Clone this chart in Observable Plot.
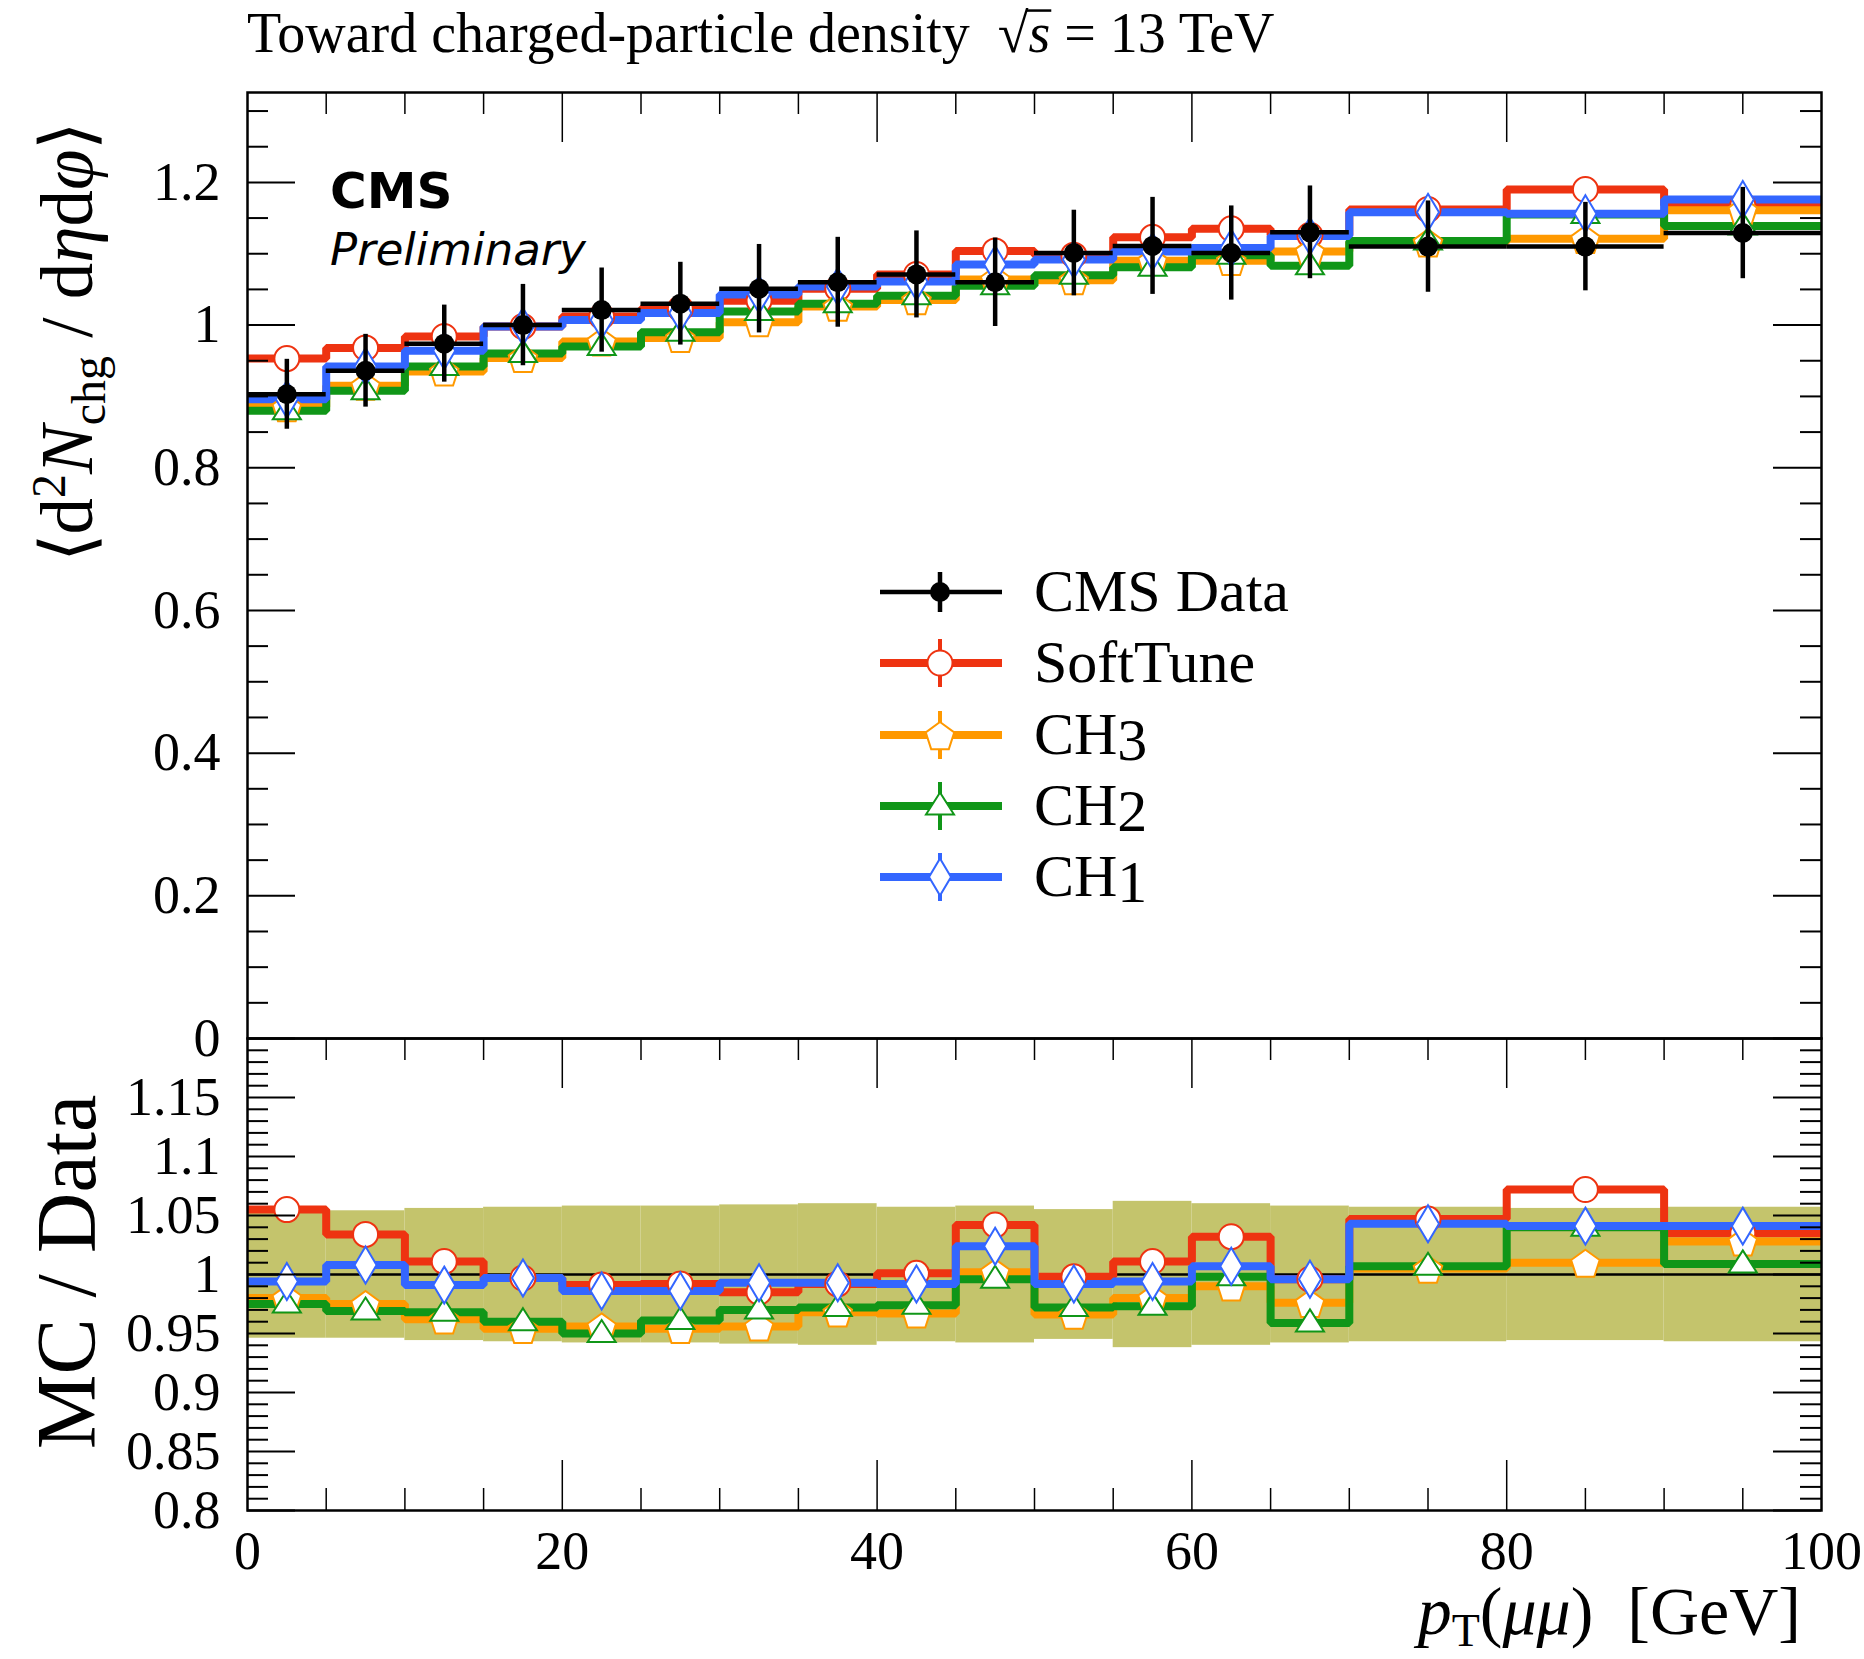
<!DOCTYPE html>
<html><head><meta charset="utf-8">
<script src="https://cdn.jsdelivr.net/npm/d3@7"></script>
<script src="https://cdn.jsdelivr.net/npm/@observablehq/plot@0.6"></script>
<style>
body{margin:0;background:#fff;}
#fig{position:relative;width:1864px;height:1659px;background:#fff;overflow:hidden;}
#fig svg{position:absolute;left:0;overflow:visible;}
</style></head><body><div id="fig"></div>
<script>
// ---------------- data ----------------
const binLo = [0, 5, 10, 15, 20, 25, 30, 35, 40, 45, 50, 55, 60, 65, 70, 80, 90];
const binHi = [5, 10, 15, 20, 25, 30, 35, 40, 45, 50, 55, 60, 65, 70, 80, 90, 100];

const dataVal = [0.903, 0.936, 0.974, 1.000, 1.021, 1.030, 1.051, 1.060, 1.071, 1.060, 1.101, 1.111, 1.101, 1.130, 1.110, 1.110, 1.129];
const dataErr = [0.049, 0.051, 0.054, 0.057, 0.059, 0.058, 0.062, 0.063, 0.061, 0.062, 0.060, 0.068, 0.066, 0.065, 0.064, 0.062, 0.064];

const softTune = [0.953, 0.968, 0.984, 0.998, 1.012, 1.023, 1.034, 1.051, 1.071, 1.104, 1.098, 1.123, 1.135, 1.126, 1.162, 1.190, 1.168];
const ch3      = [0.885, 0.915, 0.935, 0.954, 0.977, 0.982, 1.004, 1.026, 1.035, 1.064, 1.063, 1.090, 1.090, 1.103, 1.116, 1.121, 1.161];
const ch2      = [0.880, 0.908, 0.942, 0.960, 0.970, 0.990, 1.019, 1.030, 1.041, 1.055, 1.070, 1.081, 1.098, 1.083, 1.118, 1.155, 1.139];
const ch1      = [0.896, 0.942, 0.964, 0.998, 1.007, 1.017, 1.043, 1.054, 1.061, 1.085, 1.092, 1.103, 1.108, 1.125, 1.158, 1.156, 1.176];

const rSoft = [1.055, 1.034, 1.011, 0.997, 0.991, 0.992, 0.985, 0.992, 1.001, 1.042, 0.998, 1.011, 1.032, 0.996, 1.047, 1.072, 1.035];
const rCh3  = [0.980, 0.975, 0.962, 0.954, 0.956, 0.954, 0.956, 0.968, 0.967, 1.002, 0.966, 0.980, 0.990, 0.976, 1.005, 1.010, 1.028];
const rCh2  = [0.975, 0.969, 0.968, 0.960, 0.950, 0.961, 0.970, 0.972, 0.974, 0.996, 0.972, 0.973, 0.998, 0.959, 1.007, 1.040, 1.009];
const rCh1  = [0.994, 1.008, 0.991, 0.997, 0.986, 0.986, 0.993, 0.993, 0.992, 1.024, 0.992, 0.994, 1.007, 0.996, 1.043, 1.041, 1.041];

const bandHalf = [0.054, 0.054, 0.056, 0.057, 0.058, 0.058, 0.059, 0.060, 0.057, 0.058, 0.055, 0.062, 0.060, 0.058, 0.057, 0.056, 0.057];

const seriesNames = ["SoftTune", "CH3", "CH2", "CH1"];
const seriesColors = ["#ee3311", "#ff9900", "#109618", "#3366ff"];

const yTicksTop = [0, 0.2, 0.4, 0.6, 0.8, 1, 1.2];
const yTicksRatio = [0.8, 0.85, 0.9, 0.95, 1, 1.05, 1.1, 1.15];
const xTicks = [0, 20, 40, 60, 80, 100];

// ---------------- layout ----------------
const W = 1864, ML = 247, MR = 43;
const FW = W - ML - MR;
const topFrameTop = 92, split = 1038, botFrameBottom = 1510;
const topH = split - topFrameTop;       // 946
const botH = botFrameBottom - split;    // 472
const SERIF = "'Liberation Serif', 'Times New Roman', serif";
const SANS = "'DejaVu Sans', sans-serif";

const bins = binLo.map((lo, i) => ({lo, hi: binHi[i], mid: (lo + binHi[i]) / 2,
  v: dataVal[i], e: dataErr[i], b: bandHalf[i]}));

function stepPts(vals) {
  const pts = [];
  vals.forEach((v, i) => { pts.push({x: binLo[i], y: v}); pts.push({x: binHi[i], y: v}); });
  return pts;
}

// marker shapes (pixel sizes)
const symCircle = {draw(c) { const r = 12.5; c.moveTo(r, 0); c.arc(0, 0, r, 0, 2 * Math.PI); c.closePath(); }};
const symPent = {draw(c) { const R = 15; for (let k = 0; k < 5; k++) { const a = -Math.PI / 2 + k * 2 * Math.PI / 5; const px = R * Math.cos(a), py = R * Math.sin(a) + 2; k ? c.lineTo(px, py) : c.moveTo(px, py); } c.closePath(); }};
const symTri = {draw(c) { c.moveTo(0, -13.5); c.lineTo(14, 8.5); c.lineTo(-14, 8.5); c.closePath(); }};
const symDiam = {draw(c) { c.moveTo(0, -18.5); c.lineTo(11, 0); c.lineTo(0, 18.5); c.lineTo(-11, 0); c.closePath(); }};
const symbols = [symCircle, symPent, symTri, symDiam];
const topSeries = [softTune, ch3, ch2, ch1];
const ratioSeries = [rSoft, rCh3, rCh2, rCh1];

function tickMarks(yMajor, yMinor, xMajor, xMinor, fh, where) {
  const m = [];
  m.push(Plot.tickY(yMajor, {y: d => d, insetRight: FW - 48, stroke: "black", strokeWidth: 2}));
  m.push(Plot.tickY(yMajor, {y: d => d, insetLeft: FW - 48, stroke: "black", strokeWidth: 2}));
  m.push(Plot.tickY(yMinor, {y: d => d, insetRight: FW - 21, stroke: "black", strokeWidth: 2}));
  m.push(Plot.tickY(yMinor, {y: d => d, insetLeft: FW - 21, stroke: "black", strokeWidth: 2}));
  if (where.includes("top")) {
    m.push(Plot.tickX(xMajor, {x: d => d, insetBottom: fh - 50, stroke: "black", strokeWidth: 1.5}));
    m.push(Plot.tickX(xMinor, {x: d => d, insetBottom: fh - 22, stroke: "black", strokeWidth: 1.5}));
  }
  if (where.includes("bottom")) {
    m.push(Plot.tickX(xMajor, {x: d => d, insetTop: fh - 50, stroke: "black", strokeWidth: 1.5}));
    m.push(Plot.tickX(xMinor, {x: d => d, insetTop: fh - 22, stroke: "black", strokeWidth: 1.5}));
  }
  return m;
}

const xMinor = d3.range(5, 100, 5).filter(d => d % 20 !== 0);
const xMajorInner = [20, 40, 60, 80];

// ---------------- top panel ----------------
const yMaxTop = 1.326;
const yMinorTop = d3.range(0.05, 1.32, 0.05).map(d => +d.toFixed(2)).filter(d => Math.abs(d * 5 - Math.round(d * 5)) > 1e-6);

const topMarks = [];
topSeries.forEach((vals, k) => {
  topMarks.push(Plot.line(stepPts(vals), {x: "x", y: "y", stroke: seriesColors[k], strokeWidth: 8, strokeLinejoin: "miter", strokeLinecap: "butt"}));
});
topSeries.forEach((vals, k) => {
  topMarks.push(Plot.dot(bins, {x: "mid", y: (d, i) => vals[i], symbol: symbols[k], r: 10, fill: "white", stroke: seriesColors[k], strokeWidth: 2}));
});
topMarks.push(Plot.ruleY(bins, {x1: "lo", x2: "hi", y: "v", stroke: "black", strokeWidth: 4.5}));
topMarks.push(Plot.ruleX(bins, {x: "mid", y1: d => d.v - d.e, y2: d => d.v + d.e, stroke: "black", strokeWidth: 4.5}));
topMarks.push(Plot.dot(bins, {x: "mid", y: "v", r: 10, fill: "black", stroke: "none"}));
topMarks.push(...tickMarks(yTicksTop, yMinorTop, xMajorInner, xMinor, topH, ["top"]));
topMarks.push(Plot.frame({stroke: "black", strokeWidth: 2.5}));
topMarks.push(Plot.text(yTicksTop, {y: d => d, text: d => d3.format("~g")(d), frameAnchor: "left", textAnchor: "end", dx: -27, fontSize: 54, fontFamily: SERIF, fill: "black"}));

const topPlot = Plot.plot({
  width: W, height: split + 40,
  marginLeft: ML, marginRight: MR, marginTop: topFrameTop, marginBottom: 40,
  x: {domain: [0, 100], axis: null},
  y: {domain: [0, yMaxTop], axis: null},
  style: {background: "transparent", overflow: "visible", fontFamily: SERIF},
  marks: topMarks
});

// ---------------- ratio panel ----------------
const yMinorRatio = d3.range(0.81, 1.2, 0.01).map(d => +d.toFixed(2)).filter(d => Math.abs(d * 20 - Math.round(d * 20)) > 1e-6);
const botMarks = [];
botMarks.push(Plot.rect(bins, {x1: "lo", x2: "hi", y1: d => 1 - d.b, y2: d => 1 + d.b, fill: "#c4c46c"}));
botMarks.push(Plot.ruleY([1], {stroke: "black", strokeWidth: 2.5}));
ratioSeries.forEach((vals, k) => {
  botMarks.push(Plot.line(stepPts(vals), {x: "x", y: "y", stroke: seriesColors[k], strokeWidth: 8, strokeLinejoin: "miter", strokeLinecap: "butt"}));
});
ratioSeries.forEach((vals, k) => {
  botMarks.push(Plot.dot(bins, {x: "mid", y: (d, i) => vals[i], symbol: symbols[k], r: 10, fill: "white", stroke: seriesColors[k], strokeWidth: 2}));
});
botMarks.push(...tickMarks(yTicksRatio, yMinorRatio, xMajorInner, xMinor, botH, ["top", "bottom"]));
botMarks.push(Plot.frame({stroke: "black", strokeWidth: 2.5}));
botMarks.push(Plot.text(yTicksRatio, {y: d => d, text: d => d3.format("~g")(d), frameAnchor: "left", textAnchor: "end", dx: -27, fontSize: 54, fontFamily: SERIF, fill: "black"}));
botMarks.push(Plot.text(xTicks, {x: d => d, text: d => String(d), frameAnchor: "bottom", dy: 58, fontSize: 54, fontFamily: SERIF, fill: "black"}));

const botPlot = Plot.plot({
  width: W, height: 1659 - split,
  marginLeft: ML, marginRight: MR, marginTop: 0, marginBottom: 1659 - botFrameBottom,
  x: {domain: [0, 100], axis: null},
  y: {domain: [0.8, 1.2], axis: null},
  style: {background: "transparent", overflow: "visible", fontFamily: SERIF},
  marks: botMarks
});

const fig = document.getElementById("fig");
botPlot.style.top = split + "px";
topPlot.style.top = "0px";
fig.appendChild(botPlot);
fig.appendChild(topPlot);

// ---------------- texts ----------------
const st = d3.select(topPlot);
const sb = d3.select(botPlot);

// title
const titleBase = 52, titleSize = 56;
const title = st.append("text").attr("x", 247).attr("y", titleBase).attr("text-anchor", "start").attr("font-size", titleSize).attr("font-family", SERIF).attr("fill", "black");
title.append("tspan").text("Toward charged-particle density  ");
const rootT = title.append("tspan").text("√");
const sT = title.append("tspan").attr("font-style", "italic").text("s");
title.append("tspan").text(" = 13 TeV");
// radical bar over s
try {
  const full = title.node().textContent;
  const iR = full.indexOf("√");
  const eR = title.node().getExtentOfChar(iR);
  const eS = title.node().getExtentOfChar(iR + 1);
  const yBar = titleBase - 0.74 * titleSize;
  st.append("line").attr("x1", eR.x + eR.width - 1.5).attr("x2", eS.x + eS.width + 1)
    .attr("y1", yBar).attr("y2", yBar).attr("stroke", "black").attr("stroke-width", 2.5);
} catch (e) {}

// CMS Preliminary
st.append("text").attr("x", 330).attr("y", 208).attr("text-anchor", "start").attr("font-size", 50).attr("font-weight", "bold").attr("font-family", SANS).text("CMS");
st.append("text").attr("x", 330).attr("y", 265).attr("text-anchor", "start").attr("font-size", 45).attr("font-style", "italic").attr("font-family", SANS).text("Preliminary");

// y label top
const yl = st.append("text").attr("transform", "translate(92,342) rotate(-90)").attr("text-anchor", "middle")
  .attr("font-size", 73).attr("font-family", SERIF);
yl.append("tspan").text("⟨d");
yl.append("tspan").attr("font-size", 48).attr("dy", -27).text("2");
yl.append("tspan").attr("font-style", "italic").attr("dy", 27).text("N");
yl.append("tspan").attr("font-size", 48).attr("dy", 13).text("chg");
yl.append("tspan").attr("dy", -13).text(" / d");
yl.append("tspan").attr("font-style", "italic").text("η");
yl.append("tspan").text("d");
yl.append("tspan").attr("font-style", "italic").text("φ");
yl.append("tspan").text("⟩");

// y label ratio
sb.append("text").attr("transform", `translate(95,${1272 - split}) rotate(-90)`).attr("text-anchor", "middle")
  .attr("font-size", 84).attr("font-family", SERIF).text("MC / Data");

// x label
const xl = sb.append("text").attr("x", 1801).attr("y", 1634 - split).attr("text-anchor", "end")
  .attr("font-size", 68).attr("font-family", SERIF);
xl.append("tspan").attr("font-style", "italic").text("p");
xl.append("tspan").attr("font-size", 46).attr("dy", 12).text("T");
xl.append("tspan").attr("dy", -12).text("(");
xl.append("tspan").attr("font-style", "italic").text("μμ");
xl.append("tspan").text(")  [GeV]");

// legend
const legRows = [592, 663, 735, 806, 877];
const legX1 = 880, legX2 = 1002, legMx = 940, legTx = 1034;
const lg = st.append("g");
const labels = ["CMS Data", ...seriesNames];
labels.forEach((lab, j) => {
  const y = legRows[j];
  if (j === 0) {
    lg.append("line").attr("x1", legX1).attr("x2", legX2).attr("y1", y).attr("y2", y).attr("stroke", "black").attr("stroke-width", 4.5);
    lg.append("line").attr("x1", legMx).attr("x2", legMx).attr("y1", y - 20).attr("y2", y + 20).attr("stroke", "black").attr("stroke-width", 4.5);
    lg.append("circle").attr("cx", legMx).attr("cy", y).attr("r", 10).attr("fill", "black");
  } else {
    const k = j - 1;
    lg.append("line").attr("x1", legX1).attr("x2", legX2).attr("y1", y).attr("y2", y).attr("stroke", seriesColors[k]).attr("stroke-width", 8);
    lg.append("line").attr("x1", legMx).attr("x2", legMx).attr("y1", y - 24).attr("y2", y + 24).attr("stroke", seriesColors[k]).attr("stroke-width", 4);
    const p = d3.path(); symbols[k].draw(p);
    lg.append("path").attr("d", p.toString()).attr("transform", `translate(${legMx},${y})`).attr("fill", "white").attr("stroke", seriesColors[k]).attr("stroke-width", 2);
  }
  const t = lg.append("text").attr("x", legTx).attr("y", y + 19).attr("text-anchor", "start").attr("font-size", 60).attr("font-family", SERIF);
  if (lab.startsWith("CH")) {
    t.append("tspan").text("CH");
    t.append("tspan").attr("dy", 6).text(lab.slice(2));
  } else t.text(lab);
});
</script></body></html>
